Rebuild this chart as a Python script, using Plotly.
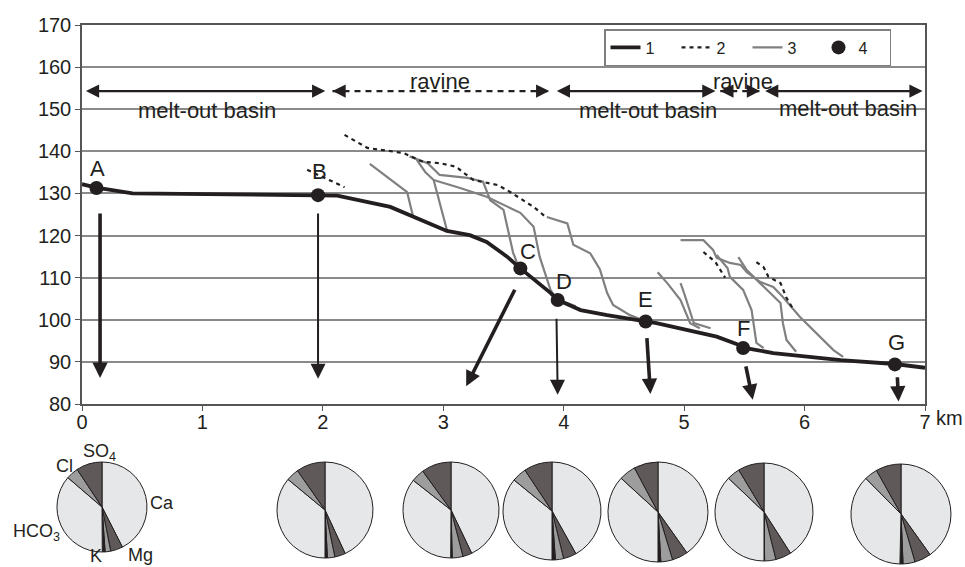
import plotly.graph_objects as go

# ---------------- data ----------------
# 1: longitudinal profile (thick black)
prof_x = [0.0, 0.12, 0.42, 1.0, 1.96, 2.12, 2.56, 2.75, 3.03, 3.22, 3.36, 3.53, 3.64, 3.89, 3.95,
          4.14, 4.36, 4.68, 4.77, 5.27, 5.44, 5.49, 5.74, 6.30, 6.75, 7.0]
prof_y = [132.2, 131.4, 130.0, 129.8, 129.6, 129.5, 126.8, 124.4, 121.1, 120.1, 118.5, 115.0, 112.2,
          106.4, 104.7, 102.3, 101.1, 99.6, 99.2, 96.0, 94.2, 93.4, 92.1, 90.4, 89.5, 88.6]

# 2: dashed segments
dash_segments = [
    ([1.87, 2.18], [135.6, 131.5]),
    ([2.18, 2.37, 2.67, 2.83, 2.97, 3.11, 3.16, 3.25, 3.45, 3.53, 3.75, 3.86],
     [143.9, 140.8, 139.6, 137.5, 137.2, 136.3, 135.1, 133.2, 132.0, 130.8, 126.8, 124.2]),
    ([5.16, 5.26, 5.34], [116.1, 113.7, 110.0]),
    ([5.60, 5.66, 5.70, 5.80, 5.85, 5.90], [113.7, 112.5, 110.2, 108.7, 105.2, 102.8]),
]

# 3: gray segments
gray_segments = [
    ([2.39, 2.53, 2.70, 2.75], [137.0, 133.9, 130.3, 124.4]),
    ([2.78, 2.85, 2.92, 2.97, 3.03], [138.0, 135.1, 133.2, 127.7, 121.3]),
    ([2.72, 2.87, 2.97, 3.20, 3.33, 3.39, 3.50, 3.58, 3.62],
     [138.8, 137.2, 134.4, 133.7, 132.8, 128.4, 126.1, 115.9, 113.0]),
    ([2.92, 3.14, 3.36, 3.47, 3.64, 3.75, 3.80, 3.89, 3.94, 4.10],
     [133.2, 131.3, 129.2, 127.7, 125.4, 122.1, 115.0, 107.1, 105.0, 103.2]),
    ([3.86, 4.03, 4.08, 4.22, 4.30, 4.36, 4.41, 4.55, 4.65],
     [124.4, 122.9, 117.8, 115.8, 112.0, 106.4, 103.5, 101.1, 100.0]),
    ([4.78, 4.86, 4.97, 5.05, 5.13], [111.3, 108.7, 104.7, 99.2, 98.0]),
    ([4.97, 5.00, 5.08, 5.22], [108.7, 106.3, 99.2, 98.0]),
    ([4.97, 5.16, 5.24, 5.27, 5.38, 5.47, 5.52, 5.63, 5.74, 5.82, 5.96, 6.07, 6.24, 6.32],
     [118.9, 118.9, 116.6, 114.7, 113.5, 113.0, 111.3, 109.0, 107.8, 105.4, 100.7, 97.6, 92.8, 91.2]),
    ([5.27, 5.36, 5.38, 5.49, 5.56, 5.57, 5.60, 5.66], [115.4, 112.3, 110.2, 107.1, 102.3, 100.0, 94.5, 93.3]),
    ([5.45, 5.52, 5.63, 5.80, 5.82, 5.85, 5.93], [114.9, 111.8, 108.7, 104.0, 99.2, 95.2, 92.4]),
]

# 4: sampling points
pt_names = ["A", "B", "C", "D", "E", "F", "G"]
pt_x = [0.12, 1.96, 3.64, 3.95, 4.68, 5.49, 6.75]
pt_y = [131.3, 129.6, 112.2, 104.7, 99.6, 93.3, 89.4]
pt_label_x = [0.125, 1.97, 3.70, 4.00, 4.68, 5.49, 6.76]
pt_label_y = [136.0, 135.1, 116.1, 109.0, 104.7, 98.0, 94.7]

# flow arrows (tail -> head)
arr_tail_x = [0.15, 1.96, 3.60, 3.94, 4.69, 5.51, 6.77]
arr_tail_y = [125.6, 125.6, 107.5, 100.6, 96.0, 89.3, 86.7]
arr_head_x = [0.15, 1.96, 3.19, 3.95, 4.72, 5.57, 6.78]
arr_head_y = [86.2, 86.0, 84.2, 82.2, 82.4, 81.0, 80.6]
arr_thick = [True, False, True, False, True, True, True]

# zones
zone_start = [0.02, 2.08, 3.93, 5.30, 5.66]
zone_end = [2.02, 3.88, 5.26, 5.63, 6.98]
zone_name = ["melt-out basin", "ravine", "melt-out basin", "ravine", "melt-out basin"]
zone_label_x = [1.04, 2.97, 4.70, 5.49, 6.36]
zone_label_y = [149.8, 156.6, 149.8, 156.6, 150.2]
zone_arrow_y = 154.3

# pies (equivalent %)
ion_labels = ["Ca", "Mg", "Na", "K", "HCO3", "Cl", "SO4"]
pie_values = [
    [42.5, 4.4, 2.0, 1.0, 36.4, 4.4, 9.3],
    [43.1, 3.6, 2.5, 0.8, 36.0, 4.3, 9.7],
    [42.9, 3.1, 3.6, 0.5, 35.5, 4.4, 10.0],
    [41.9, 4.3, 2.7, 1.1, 35.9, 4.8, 9.3],
    [40.2, 5.1, 3.8, 0.9, 36.8, 5.4, 7.8],
    [40.9, 5.2, 3.7, 0.2, 37.1, 4.3, 8.6],
    [40.4, 5.4, 3.9, 1.0, 37.5, 4.3, 8.2],
]

# ---------------- layout constants ----------------
W, H = 965, 567
FONT = "Liberation Sans, Arial, sans-serif"
INK = "#231f20"
ion_colors = ["#e6e7e8", "#5f5a59", "#9d9d9d", INK, "#e6e7e8", "#9d9d9d", "#5f5a59"]
pie_centers_px = [(102, 507, 45), (325, 510, 48), (451, 510, 48), (552, 511, 49),
                  (658, 512, 50), (764, 512, 49), (901, 514, 50)]
plot_left, plot_right, plot_top, plot_bottom = 82, 925, 25, 404


def join(segs):
    xs, ys = [], []
    for sx, sy in segs:
        xs += list(sx) + [None]
        ys += list(sy) + [None]
    return xs, ys


fig = go.Figure()

gx, gy = join(gray_segments)
fig.add_trace(go.Scatter(x=gx, y=gy, mode="lines", name="3", legendrank=3,
                         line=dict(color="#808080", width=2.2), connectgaps=False))
dx, dy = join(dash_segments)
fig.add_trace(go.Scatter(x=dx, y=dy, mode="lines", name="2", legendrank=2,
                         line=dict(color=INK, width=2.2, dash="4px,4px"), connectgaps=False))
fig.add_trace(go.Scatter(x=prof_x, y=prof_y, mode="lines", name="1", legendrank=1,
                         line=dict(color=INK, width=3.8)))
fig.add_trace(go.Scatter(x=pt_x, y=pt_y, mode="markers", name="4", legendrank=4,
                         marker=dict(color=INK, size=14, symbol="circle")))

# ravine dashed zone lines
for s, e, n in zip(zone_start, zone_end, zone_name):
    if n == "ravine":
        fig.add_trace(go.Scatter(x=[s, e], y=[zone_arrow_y, zone_arrow_y], mode="lines",
                                 showlegend=False, hoverinfo="skip",
                                 line=dict(color=INK, width=2.2, dash="6px,5px")))

annotations = []
# zone arrows
for s, e, n in zip(zone_start, zone_end, zone_name):
    if n == "ravine":
        for head, tail in ((s, s + 0.12), (e, e - 0.12)):
            annotations.append(dict(x=head, y=zone_arrow_y, ax=tail, ay=zone_arrow_y,
                                    xref="x", yref="y", axref="x", ayref="y", text="",
                                    showarrow=True, arrowhead=2, arrowsize=1.2,
                                    arrowwidth=2.2, arrowcolor=INK, standoff=0))
    else:
        annotations.append(dict(x=e, y=zone_arrow_y, ax=s, ay=zone_arrow_y,
                                xref="x", yref="y", axref="x", ayref="y", text="",
                                showarrow=True, arrowhead=2, arrowside="end+start",
                                arrowsize=1.2, arrowwidth=2.2, arrowcolor=INK,
                                standoff=0, startstandoff=0))
for lx, ly, n in zip(zone_label_x, zone_label_y, zone_name):
    annotations.append(dict(x=lx, y=ly, xref="x", yref="y", text=n, showarrow=False,
                            xanchor="center", yanchor="middle",
                            font=dict(family=FONT, size=22, color=INK)))

# point labels
for n, lx, ly in zip(pt_names, pt_label_x, pt_label_y):
    annotations.append(dict(x=lx, y=ly, xref="x", yref="y", text=n, showarrow=False,
                            xanchor="center", yanchor="middle",
                            font=dict(family=FONT, size=22, color=INK)))

# flow arrows
for tx, ty, hx, hy, th in zip(arr_tail_x, arr_tail_y, arr_head_x, arr_head_y, arr_thick):
    annotations.append(dict(x=hx, y=hy, ax=tx, ay=ty, xref="x", yref="y",
                            axref="x", ayref="y", text="", showarrow=True,
                            arrowhead=2, arrowsize=0.85 if th else 1.5,
                            arrowwidth=3.6 if th else 2.0, arrowcolor=INK, standoff=0))

# km label
annotations.append(dict(x=(plot_right + 24) / W, y=1 - 418 / H, xref="paper", yref="paper",
                        text="km", showarrow=False, xanchor="center", yanchor="middle",
                        font=dict(family=FONT, size=20, color=INK)))

# pies
for vals, (cx, cy, r) in zip(pie_values, pie_centers_px):
    fig.add_trace(go.Pie(values=vals, labels=ion_labels, sort=False, direction="clockwise",
                         rotation=0, textinfo="none", showlegend=False,
                         marker=dict(colors=ion_colors, line=dict(color=INK, width=1)),
                         domain=dict(x=[(cx - r) / W, (cx + r) / W],
                                     y=[1 - (cy + r) / H, 1 - (cy - r) / H])))

# pie ion labels
pie_lbl_text = ["SO<sub>4</sub>", "Cl", "Ca", "HCO<sub>3</sub>", "K", "Mg"]
pie_lbl_px = [(99, 452), (64, 466), (162, 503), (36, 532), (96, 556), (140, 555)]
for t, (px, py) in zip(pie_lbl_text, pie_lbl_px):
    annotations.append(dict(x=px / W, y=1 - py / H, xref="paper", yref="paper", text=t,
                            showarrow=False, xanchor="center", yanchor="middle",
                            font=dict(family=FONT, size=18, color=INK)))

fig.update_layout(
    template="none",
    width=W, height=H,
    margin=dict(l=0, r=0, t=0, b=0),
    paper_bgcolor="white", plot_bgcolor="white",
    font=dict(family=FONT, color=INK, size=20),
    annotations=annotations,
    showlegend=True,
    legend=dict(orientation="h", x=604 / W, y=1 - 29 / H, xanchor="left", yanchor="top",
                bgcolor="white", bordercolor="#808080", borderwidth=1.5,
                font=dict(family=FONT, size=16, color=INK), traceorder="normal",
                entrywidth=26, entrywidthmode="pixels"),
    xaxis=dict(domain=[plot_left / W, plot_right / W], range=[0, 7], tickvals=list(range(8)),
               ticktext=[str(i) for i in range(8)], showgrid=False, zeroline=False,
               showline=True, linecolor="#555555", linewidth=1.5, mirror=True,
               ticks="outside", ticklen=5, tickcolor="#555555", automargin=False,
               ticklabelstandoff=-6,
               tickfont=dict(family=FONT, size=20, color=INK)),
    yaxis=dict(domain=[1 - plot_bottom / H, 1 - plot_top / H], range=[80, 170], dtick=10,
               showgrid=True, gridcolor="#8a8a8a", gridwidth=1.5, zeroline=False,
               showline=True, linecolor="#555555", linewidth=1.5, mirror=True,
               ticks="outside", ticklen=5, tickcolor="#555555", automargin=False,
               tickfont=dict(family=FONT, size=20, color=INK)),
)

fig.write_html("out.html")
